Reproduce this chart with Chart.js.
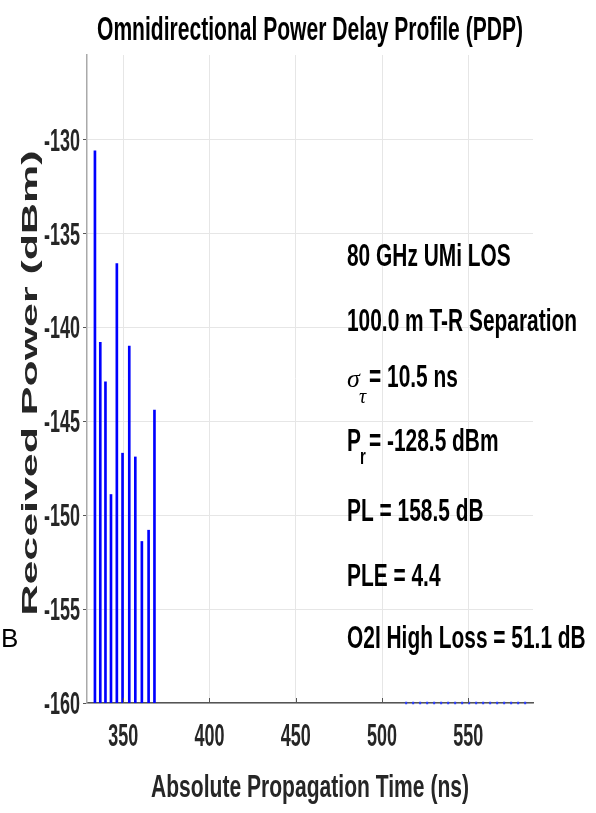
<!DOCTYPE html>
<html>
<head>
<meta charset="utf-8">
<script src="https://cdn.jsdelivr.net/npm/chart.js@4.4.1/dist/chart.umd.min.js"></script>
<style>
  html, body { margin: 0; padding: 0; background: #fff; }
</style>
</head>
<body>
<canvas id="pdpChart" width="596" height="813"></canvas>
<script>
// multipath components
const delayNs = [333.6, 336.7, 339.7, 342.9, 346.3, 349.6, 353.5, 357.0, 360.8, 364.7, 368.1];
const powerDbm = [-130.6, -140.8, -142.9, -148.9, -136.6, -146.7, -141.0, -146.9, -151.4, -150.8, -144.4];
const floorDbm = -160;
const floorSpanNs = [513.4, 584.8];
const xTickValues = [350, 400, 450, 500, 550];
const yTickValues = [-160, -155, -150, -145, -140, -135, -130];
const xRange = [329, 587.5];
const yRange = [-160, -125.5];

// [main, subscript, rest]
const infoLines = [
    ['80 GHz UMi LOS'],
    ['100.0 m T-R Separation'],
    ['\u03C3', '\u03C4', '= 10.5 ns'],
    ['P', 'r', '= -128.5 dBm'],
    ['PL = 158.5 dB'],
    ['PLE = 4.4'],
    ['O2I High Loss = 51.1 dB']
];

const FONT = '"Liberation Sans", Arial, sans-serif';
const TEXT_COLOR = '#262626';

// MATLAB export squeezes its Helvetica, so draw text narrowed to a target width
function squeeze(ctx, text, x, y, size, sx, align) {
    ctx.save();
    ctx.font = 'bold ' + size + 'px ' + FONT;
    ctx.textAlign = align || 'left';
    ctx.textBaseline = 'alphabetic';
    ctx.translate(x, y);
    ctx.scale(sx, 1);
    ctx.fillText(text, 0, 0);
    ctx.restore();
}

function widthAt(ctx, text, size) {
    ctx.font = 'bold ' + size + 'px ' + FONT;
    return ctx.measureText(text).width;
}

const textPlugin = {
    id: 'pdpText',
    afterDraw: function(chart) {
        const ctx = chart.ctx;
        const area = chart.chartArea;
        const xScale = chart.scales.x;
        const yScale = chart.scales.y;

        ctx.save();

        // inward x ticks
        ctx.strokeStyle = '#555';
        ctx.lineWidth = 1;
        xTickValues.forEach(v => {
            const px = Math.round(xScale.getPixelForValue(v)) + 0.5;
            ctx.beginPath();
            ctx.moveTo(px, area.bottom);
            ctx.lineTo(px, area.bottom - 5);
            ctx.stroke();
        });

        // title
        ctx.fillStyle = '#000';
        const tSize = 34;
        const title = 'Omnidirectional Power Delay Profile (PDP)';
        squeeze(ctx, title, (area.left + area.right) / 2, 40, tSize, 426 / widthAt(ctx, title, tSize), 'center');

        // tick labels
        ctx.fillStyle = TEXT_COLOR;
        const kSize = 31;
        const kSx = 36 / widthAt(ctx, '-130', kSize);
        const capH = kSize * 0.716;
        yTickValues.forEach(v => {
            squeeze(ctx, String(v), area.left - 7, yScale.getPixelForValue(v) + capH / 2, kSize, kSx, 'right');
        });
        xTickValues.forEach(v => {
            squeeze(ctx, String(v), xScale.getPixelForValue(v), 746, kSize, kSx, 'center');
        });

        // x axis title
        const xt = 'Absolute Propagation Time (ns)';
        squeeze(ctx, xt, (area.left + area.right) / 2, 797, 32, 318 / widthAt(ctx, xt, 32), 'center');

        // y axis label, wide letters
        ctx.save();
        ctx.translate(37, 383);
        ctx.rotate(-Math.PI / 2);
        ctx.font = 'bold 22px ' + FONT;
        ctx.textAlign = 'center';
        ctx.textBaseline = 'alphabetic';
        const yLabel = 'Received Power (dBm)';
        ctx.scale(465 / ctx.measureText(yLabel).width, 1);
        ctx.fillText(yLabel, 0, 0);
        ctx.restore();

        // stray label at the left edge
        ctx.fillStyle = '#000';
        ctx.font = '26px ' + FONT;
        ctx.textAlign = 'left';
        ctx.fillText('B', 1, 647);

        // info block
        const iSize = 31;
        const iSx = 230 / widthAt(ctx, infoLines[1][0], iSize);
        const baselines = [266, 331, 387, 451, 521, 586, 648];
        const x0 = 347;
        infoLines.forEach((line, i) => {
            const y = baselines[i];
            ctx.fillStyle = '#000';
            if (line.length === 1) {
                squeeze(ctx, line[0], x0, y, iSize, iSx, 'left');
                return;
            }
            if (line[0] === '\u03C3') {
                ctx.font = 'italic 26px "Liberation Serif", serif';
                ctx.textAlign = 'left';
                ctx.fillText(line[0], x0, y);
                ctx.font = 'italic 20px "Liberation Serif", serif';
                ctx.fillText(line[1], x0 + 12, y + 16);
            } else {
                squeeze(ctx, line[0], x0, y, iSize, iSx, 'left');
                squeeze(ctx, line[1], x0 + 13, y + 13, 22, iSx, 'left');
            }
            squeeze(ctx, line[2], x0 + 22, y, iSize, iSx, 'left');
        });

        ctx.restore();
    }
};

const ctx = document.getElementById('pdpChart').getContext('2d');
new Chart(ctx, {
    type: 'bar',
    data: {
        datasets: [
            {
                type: 'bar',
                data: delayNs.map((d, i) => ({ x: d, y: [floorDbm, powerDbm[i]] })),
                backgroundColor: '#0000ff',
                borderWidth: 0,
                barThickness: 2
            },
            {
                type: 'line',
                data: floorSpanNs.map(d => ({ x: d, y: floorDbm })),
                borderColor: '#2a3cff',
                borderWidth: 2.5,
                borderDash: [2, 5],
                pointRadius: 0,
                fill: false,
                clip: 6
            }
        ]
    },
    plugins: [textPlugin],
    options: {
        responsive: false,
        animation: false,
        devicePixelRatio: 1,
        layout: { padding: { top: 55, right: 63, left: 0, bottom: 0 } },
        plugins: {
            legend: { display: false },
            tooltip: { enabled: false },
            title: { display: false }
        },
        scales: {
            x: {
                type: 'linear',
                offset: false,
                min: xRange[0],
                max: xRange[1],
                afterBuildTicks: scale => { scale.ticks = xTickValues.map(v => ({ value: v })); },
                afterFit: scale => { scale.height = 110; },
                grid: { color: '#e6e6e6', drawTicks: false, offset: false },
                border: { color: '#555', width: 1.5 },
                ticks: { display: false }
            },
            y: {
                type: 'linear',
                min: yRange[0],
                max: yRange[1],
                afterBuildTicks: scale => { scale.ticks = yTickValues.map(v => ({ value: v })); },
                afterFit: scale => { scale.width = 87; },
                grid: { color: '#e6e6e6', tickLength: 4, tickColor: '#555' },
                border: { color: '#aaa', width: 1.5 },
                ticks: { display: false }
            }
        }
    }
});
</script>
</body>
</html>
